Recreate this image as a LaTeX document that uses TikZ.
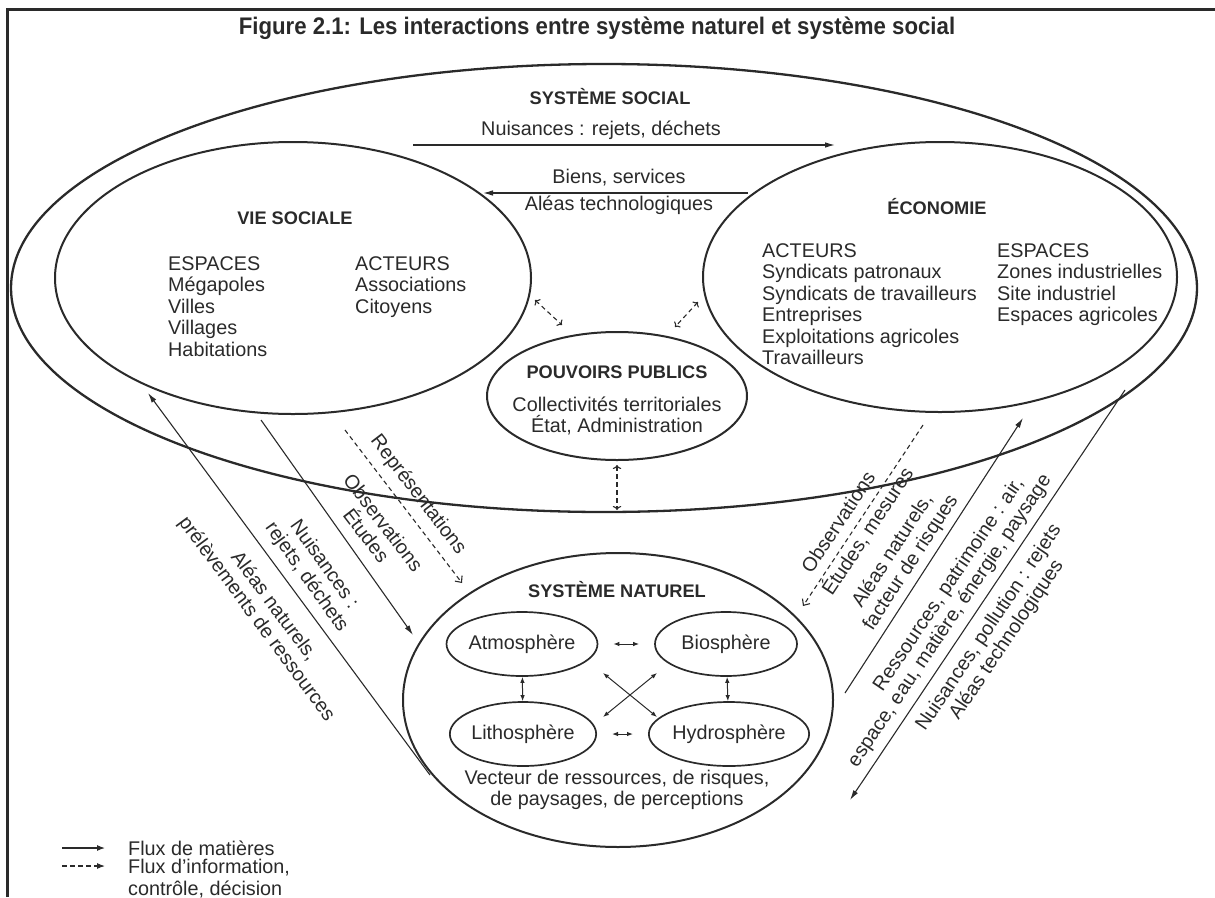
\documentclass[tikz,border=0pt]{standalone}
\usepackage{fontspec}
\setmainfont{Liberation Sans}
\newfontfamily\titlefam[FakeStretch=0.925]{Liberation Sans}
\usetikzlibrary{arrows.meta,shapes.geometric}
\definecolor{ink}{HTML}{2A2A2A}
\newcommand\bodysize{\fontsize{19.8pt}{21.5pt}\selectfont}
\newcommand\headsize{\fontsize{18.2pt}{20pt}\selectfont\bfseries}
\tikzset{
  sysbox/.style={ellipse, draw=ink, line width=2pt, inner sep=0pt},
  sphere/.style={ellipse, draw=ink, line width=1.7pt, inner sep=0pt,
    minimum width=142pt, minimum height=64pt, text=ink, font=\bodysize},
  txt/.style={text=ink, font=\bodysize, inner sep=0pt, align=center},
  col/.style={text=ink, font=\bodysize, inner sep=0pt, align=left, anchor=north west},
  head/.style={text=ink, font=\headsize, inner sep=0pt},
  flux/.style={draw=ink, line width=1.1pt, -{Latex[length=10pt,width=5.5pt]}},
  info/.style={draw=ink, line width=1.1pt, dash pattern=on 4.5pt off 3.5pt,
    -{Straight Barb[length=5pt,width=9pt]}},
  link/.style={draw=ink, line width=1pt,
    {Latex[length=6pt,width=4.5pt]}-{Latex[length=6pt,width=4.5pt]}},
}
\begin{document}
\begin{tikzpicture}[x=1pt,y=-1pt]
  \useasboundingbox (0,0) rectangle (1215,897);
  \draw[ink, line width=3pt] (7,897) -- (7,9) -- (1215,9);
  \node[text=ink, inner sep=0pt, font=\titlefam\bfseries\fontsize{24pt}{26pt}\selectfont] (title) at (597,28)
    {Figure 2.1: Les interactions entre système naturel et système social};

  % les systemes
  \node[sysbox, line width=2.3pt, minimum width=1186pt, minimum height=448pt] (social) at (604,288) {};
  \node[sysbox, minimum width=476pt, minimum height=272pt] (vie) at (293,278) {};
  \node[sysbox, minimum width=474pt, minimum height=270pt] (eco) at (940,277) {};
  \node[sysbox, minimum width=260pt, minimum height=128pt] (pouv) at (617,396) {};
  \node[sysbox, minimum width=430pt, minimum height=294pt] (nat) at (618,700) {};

  \node[head] (socialT) at (610,97) {SYSTÈME SOCIAL};
  \node[txt] (nuiT) at (601,130) {Nuisances : rejets, déchets};
  \node[txt] (bienT) at (619,178) {Biens, services};
  \node[txt] (aleaT) at (619,205) {Aléas technologiques};

  \node[head] (vieT) at (295,218) {VIE SOCIALE};
  \node[col] (vieEsp) at (168,256) {ESPACES\\Mégapoles\\Villes\\Villages\\Habitations};
  \node[col] (vieAct) at (355,256) {ACTEURS\\Associations\\Citoyens};

  \node[head] (ecoT) at (937,207) {ÉCONOMIE};
  \node[col] (ecoAct) at (762,243) {ACTEURS\\Syndicats patronaux\\Syndicats de travailleurs\\Entreprises\\Exploitations agricoles\\Travailleurs};
  \node[col] (ecoEsp) at (997,243) {ESPACES\\Zones industrielles\\Site industriel\\Espaces agricoles};

  \node[head] (pouvT) at (617,372) {POUVOIRS PUBLICS};
  \node[txt] (pouvL) at (617,416) {Collectivités territoriales\\État, Administration};

  \node[head] (natT) at (617,590) {SYSTÈME NATUREL};
  \node[sphere] (atmo) at (522,644) {Atmosphère};
  \node[sphere] (bio) at (726,644) {Biosphère};
  \node[sphere] (litho) at (523,734) {Lithosphère};
  \node[sphere] (hydro) at (729,734) {Hydrosphère};
  \node[txt] (natL) at (617,790) {Vecteur de ressources, de risques,\\de paysages, de perceptions};

  % echanges dans le systeme naturel
  \draw[link, shorten <=15pt, shorten >=15pt] (atmo) -- (bio);
  \draw[link, shorten <=15pt, shorten >=15pt] (litho) -- (hydro);
  \draw[link] (atmo) -- (litho);
  \draw[link] (bio) -- (hydro);
  \coordinate (xa) at (603,673); \coordinate (xb) at (657,717);
  \coordinate (xc) at (657,673); \coordinate (xd) at (603,717);
  \draw[link] (xa) -- (xb);
  \draw[link] (xc) -- (xd);

  % flux dans le systeme social
  \coordinate (nuiA) at (413,145); \coordinate (nuiB) at (835,145);
  \coordinate (bienA) at (748,193); \coordinate (bienB) at (483,193);
  \draw[flux] (nuiA) -- (nuiB);
  \draw[flux] (bienA) -- (bienB);
  \coordinate (vp1) at (535,300); \coordinate (vp2) at (562,325);
  \coordinate (ep1) at (698,302); \coordinate (ep2) at (675,327);
  \coordinate (np1) at (617,465); \coordinate (np2) at (617,510);
  \draw[info, <->] (vp1) -- (vp2);
  \draw[info, <->] (ep1) -- (ep2);
  \draw[info, <->] (np1) -- (np2);

  % flux entre les deux systemes, a gauche
  \coordinate (lA) at (430,775); \coordinate (lB) at (148,393);
  \coordinate (lC) at (261,420); \coordinate (lD) at (413,635);
  \coordinate (lE) at (345,430); \coordinate (lF) at (462,583);
  \draw[flux] (lA) -- (lB);
  \draw[flux] (lC) -- (lD);
  \draw[info] (lE) -- (lF);
  \node[txt, rotate=-53.5] (lAT) at (265,613) {Aléas naturels,\\prélèvements de ressources};
  \node[txt, rotate=-54.7] (lCT) at (315,571) {Nuisances :\\rejets, déchets};
  \node[txt, rotate=-52.6] (lET) at (418,495) {Représentations};
  \node[txt, rotate=-52.6] (lET2) at (375,529) {Observations\\Études};

  % flux entre les deux systemes, a droite
  \coordinate (rA) at (923,425); \coordinate (rB) at (803,606);
  \coordinate (rC) at (845,693); \coordinate (rD) at (1023,418);
  \coordinate (rE) at (1125,390); \coordinate (rF) at (850,800);
  \draw[info] (rA) -- (rB);
  \draw[flux] (rC) -- (rD);
  \draw[flux] (rE) -- (rF);
  \node[txt, rotate=56.4] (rAT) at (838,522) {Observations};
  \node[txt, rotate=56.4] (rAT2) at (867,531) {Études, mesures};
  \node[txt, rotate=57] (rCT) at (902,557) {Aléas naturels,\\facteur de risques};
  \node[txt, rotate=56] (rCT2) at (949,585) {Ressources, patrimoine : air,};
  \node[txt, rotate=56] (rCT3) at (950,621) {espace, eau, matière, énergie, paysage};
  \node[txt, rotate=56] (rET) at (998,634) {Nuisances, pollution : rejets\\Aléas technologiques};

  % legende
  \coordinate (k1) at (62,848); \coordinate (k2) at (105,848);
  \coordinate (k3) at (62,866); \coordinate (k4) at (105,866);
  \draw[flux, -{Latex[length=8pt,width=6pt]}] (k1) -- (k2);
  \draw[info, -{Latex[length=8pt,width=6pt]}] (k3) -- (k4);
  \node[txt, anchor=west] (k2T) at (128,848) {Flux de matières};
  \node[col, anchor=north west] (k4T) at (128,859) {Flux d’information,\\contrôle, décision};
\end{tikzpicture}
\end{document}
